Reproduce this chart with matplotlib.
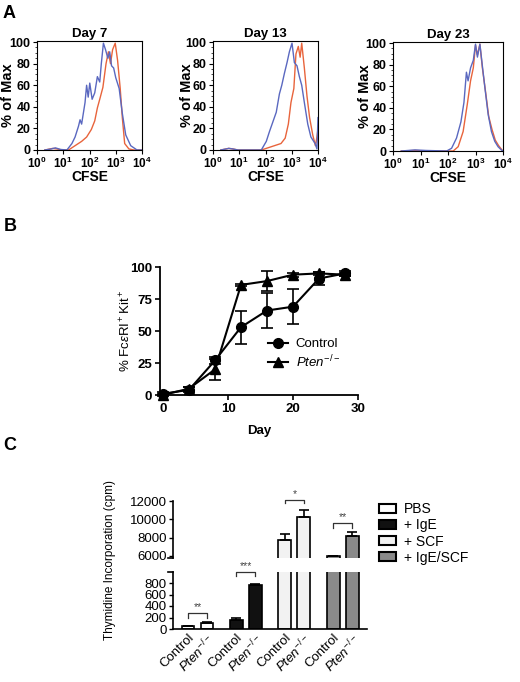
import numpy as np
import matplotlib
matplotlib.use('Agg')
import matplotlib.pyplot as plt
from matplotlib.patches import Patch
from matplotlib.lines import Line2D
from matplotlib.ticker import MultipleLocator, LogLocator, NullFormatter

plt.rcParams['font.family'] = ['Liberation Sans', 'DejaVu Sans']
plt.rcParams['mathtext.fontset'] = 'custom'
plt.rcParams['mathtext.rm'] = 'Liberation Sans'
plt.rcParams['mathtext.it'] = 'Liberation Sans:italic'
plt.rcParams['mathtext.bf'] = 'Liberation Sans:bold'

# ---- panel A: CFSE histograms (x = log10 CFSE, y = % of max) ----
day_titles = ['Day 7', 'Day 13', 'Day 23']

d7_blue_x = [0.3, 0.55, 0.7, 0.9, 1.14, 1.33, 1.45, 1.58, 1.64, 1.70, 1.83, 1.89, 1.95, 2.01, 2.10,
             2.20, 2.30, 2.39, 2.45, 2.53, 2.61, 2.70, 2.77, 2.84, 2.92, 3.0, 3.13, 3.25, 3.38,
             3.57, 3.81, 4.0]
d7_blue_y = [0, 1, 2, 0.5, 0, 6, 12, 22, 28, 24, 44, 60, 49, 62, 47,
             53, 68, 63, 80, 99, 93, 85, 91, 78, 76, 67, 57, 34, 14,
             4, 0, 0]
d7_red_x = [0.3, 0.6, 0.75, 0.95, 1.2, 1.45, 1.70, 1.89, 2.07, 2.20, 2.30, 2.39, 2.51, 2.63, 2.72,
            2.80, 2.88, 2.98, 3.07, 3.17, 3.25, 3.34, 3.50, 3.69, 4.0]
d7_red_y = [0, 1.5, 1, 0, 0, 4, 8, 12, 19, 27, 39, 47, 58, 80, 91,
            80, 93, 99, 83, 57, 30, 6, 1, 0, 0]

d13_blue_x = [0.3, 0.6, 0.75, 0.95, 1.84, 2.03, 2.15, 2.28, 2.41, 2.53, 2.62, 2.72, 2.82, 2.91, 3.01,
              3.10, 3.20, 3.29, 3.38, 3.48, 3.61, 3.73, 3.89, 3.96, 4.0]
d13_blue_y = [0, 1.5, 1, 0, 0, 8, 17, 26, 35, 52, 60, 71, 81, 91, 99,
              81, 78, 68, 60, 44, 24, 12, 6, 1, 30]
d13_red_x = [0.3, 0.6, 0.75, 0.95, 1.84, 2.09, 2.34, 2.59, 2.75, 2.87, 2.97, 3.08, 3.16, 3.25, 3.32,
             3.38, 3.48, 3.58, 3.68, 3.80, 3.90, 3.96, 4.0]
d13_red_y = [0, 1.5, 1, 0, 0, 2, 4, 6, 11, 24, 44, 57, 89, 96, 86,
             99, 76, 50, 30, 14, 4, 12, 20]

d23_blue_x = [0.3, 0.8, 1.2, 1.95, 2.13, 2.31, 2.47, 2.58, 2.67, 2.73, 2.82, 2.92, 3.00, 3.07, 3.16,
              3.24, 3.34, 3.46, 3.58, 3.70, 3.82, 3.94, 4.0]
d23_blue_y = [0, 1, 0.5, 0, 2.5, 12, 27, 45, 73, 65, 77, 84, 99, 87, 99,
              81, 59, 34, 18, 9, 4, 1, 0]
d23_red_x = [0.3, 0.8, 1.2, 2.19, 2.37, 2.55, 2.70, 2.82, 2.92, 3.00, 3.07, 3.16, 3.25, 3.36, 3.48,
             3.60, 3.72, 3.84, 3.96, 4.0]
d23_red_y = [0, 0.5, 0, 0, 4, 18, 43, 65, 77, 98, 89, 99, 77, 56, 32,
             20, 10, 5, 1, 0]

hist_blue = [(d7_blue_x, d7_blue_y), (d13_blue_x, d13_blue_y), (d23_blue_x, d23_blue_y)]
hist_red = [(d7_red_x, d7_red_y), (d13_red_x, d13_red_y), (d23_red_x, d23_red_y)]

# ---- panel B: % FceRI+Kit+ over time ----
days = [0, 4, 8, 12, 16, 20, 24, 28]
ctrl_mean = [1, 4, 27, 53, 66, 69, 91, 95]
ctrl_err = [1, 2, 3, 13, 13.5, 13.5, 5, 2]
pten_mean = [0, 5, 20, 86, 89, 94, 95, 94]
pten_err = [0.5, 1.5, 8, 1, 7.5, 1.5, 1, 1]

# ---- panel C: thymidine incorporation ----
treatments = ['PBS', '+ IgE', '+ SCF', '+ IgE/SCF']
treat_colors = ['white', '#111111', '#f2f2f2', '#8a8a8a']
cpm_ctrl = [50, 165, 7750, 5950]
cpm_ctrl_err = [10, 30, 600, 80]
cpm_pten = [110, 765, 10250, 8150]
cpm_pten_err = [12, 20, 800, 500]
sig_stars = ['**', '***', '*', '**']
sig_height = [270, 990, 12100, 9570]
sig_leg = [200, 920, 11800, 9050]

W, H = 520, 682
fig = plt.figure(figsize=(W / 100, H / 100), dpi=100)

def rect(l, t, r, b):
    return [l / W, 1 - b / H, (r - l) / W, (b - t) / H]

# ---------- A ----------
a_boxes = [(37, 41, 142, 150), (213, 41, 318, 150), (393, 42, 503, 151)]
ylab_gap = [22, 19, 21]
blue_c = '#5a68c0'
red_c = '#e8643c'
for i, bx in enumerate(a_boxes):
    ax = fig.add_axes(rect(*bx))
    bxs, bys = hist_blue[i]
    rxs, rys = hist_red[i]
    ax.plot(10 ** np.array(rxs), rys, color=red_c, lw=1.0)
    ax.plot(10 ** np.array(bxs), bys, color=blue_c, lw=1.0)
    ax.set_xscale('log')
    ax.set_xlim(1, 1e4)
    ax.set_ylim(0, 101)
    ax.set_xticks([1, 10, 100, 1000, 10000])
    ax.set_xticklabels([r'$\mathbf{10^{%d}}$' % k for k in range(5)], fontsize=8.5)
    ax.xaxis.set_minor_locator(LogLocator(base=10, subs=np.arange(2, 10)))
    ax.xaxis.set_minor_formatter(NullFormatter())
    ax.set_yticks([0, 20, 40, 60, 80, 100])
    ax.set_yticklabels(['0', '20', '40', '60', '80', '100'], fontsize=9, fontweight='bold')
    ax.yaxis.set_minor_locator(MultipleLocator(5))
    ax.tick_params(which='major', length=3, width=0.8, pad=1.5)
    ax.tick_params(axis='x', which='major', pad=1)
    ax.tick_params(which='minor', length=1.5, width=0.5)
    for s in ax.spines.values():
        s.set_linewidth(0.8)
    ax.set_xlabel('CFSE', fontsize=10, fontweight='bold')
    ax.xaxis.set_label_coords(0.5, -20 / (bx[3] - bx[1]))
    ax.set_ylabel('% of Max', fontsize=10.5, fontweight='bold')
    ax.yaxis.set_label_coords(-ylab_gap[i] / (bx[2] - bx[0]), 0.5)
    ax.set_title(day_titles[i], fontsize=9.5, fontweight='bold', pad=3)

fig.text(3 / W, 1 - 13 / H, 'A', fontsize=13, fontweight='bold', va='center')
fig.text(4 / W, 1 - 227 / H, 'B', fontsize=13, fontweight='bold', va='center')
fig.text(3 / W, 1 - 445 / H, 'C', fontsize=13, fontweight='bold', va='center')

# ---------- B ----------
axb = fig.add_axes(rect(159.75, 267, 358, 395))
axb.errorbar(days, ctrl_mean, yerr=ctrl_err, color='black', lw=1.5, marker='o', ms=7,
             capsize=4, capthick=1.2, elinewidth=1.2, clip_on=False, zorder=3)
axb.errorbar(days, pten_mean, yerr=pten_err, color='black', lw=1.5, marker='^', ms=7,
             capsize=4, capthick=1.2, elinewidth=1.2, clip_on=False, zorder=3)
axb.set_xlim(-0.5, 30)
axb.set_ylim(0, 100)
axb.set_xticks([0, 10, 20, 30])
axb.set_yticks([0, 25, 50, 75, 100])
for lab in axb.get_xticklabels() + axb.get_yticklabels():
    lab.set_fontweight('bold')
    lab.set_fontsize(9.5)
axb.spines['top'].set_visible(False)
axb.spines['right'].set_visible(False)
axb.spines['left'].set_linewidth(1.3)
axb.spines['bottom'].set_linewidth(1.3)
axb.tick_params(length=3.5, width=1.2, pad=2)
axb.set_xlabel('Day', fontsize=9.5, fontweight='bold')
axb.xaxis.set_label_coords(0.5, -(425 - 395) / 128)
axb.set_ylabel(r'% Fc$\epsilon$RI$^+$Kit$^+$', fontsize=9.5)
axb.yaxis.set_label_coords((133 - 159.75) / 198.25, 0.5)
b_handles = [Line2D([], [], color='black', marker='o', ms=7, lw=1.5),
             Line2D([], [], color='black', marker='^', ms=7, lw=1.5)]
axb.legend(b_handles, ['Control', r'$\it{Pten}^{-/-}$'], frameon=False, fontsize=9.5,
           loc='center left', bbox_to_anchor=(268 / W, 1 - 354 / H), bbox_transform=fig.transFigure,
           borderpad=0, borderaxespad=0, handlelength=1.5, handletextpad=0.6, labelspacing=0.25)

# ---------- C ----------
ax_up = fig.add_axes(rect(173, 501, 367, 558))
ax_lo = fig.add_axes(rect(173, 571.5, 367, 629))
grp = np.arange(len(treatments)) * 2.55
x_ctrl = grp
x_pten = grp + 1.0
bw = 0.68
for ax in (ax_up, ax_lo):
    for j in range(len(treatments)):
        ax.bar([x_ctrl[j], x_pten[j]], [cpm_ctrl[j], cpm_pten[j]], width=bw,
               color=treat_colors[j], edgecolor='black', lw=1.2, zorder=2)
        ax.errorbar([x_ctrl[j], x_pten[j]], [cpm_ctrl[j], cpm_pten[j]],
                    yerr=[[0, 0], [cpm_ctrl_err[j], cpm_pten_err[j]]], fmt='none',
                    ecolor='black', elinewidth=1.2, capsize=3.5, capthick=1.2, zorder=3)
    ax.set_xlim(-0.79, 9.42)
    ax.spines['top'].set_visible(False)
    ax.spines['right'].set_visible(False)
    ax.spines['left'].set_linewidth(1.2)
    ax.tick_params(axis='y', length=3, width=1.0, pad=1.5, labelsize=9.5)

ax_up.set_ylim(5780, 12000)
ax_up.set_yticks([6000, 8000, 10000, 12000])
ax_up.spines['bottom'].set_visible(False)
ax_up.set_xticks([])
ax_lo.set_ylim(0, 1000)
ax_lo.set_yticks([0, 200, 400, 600, 800])
ax_lo.spines['bottom'].set_linewidth(1.2)
ax_lo.tick_params(axis='x', length=0, pad=2)
xt = np.ravel(np.column_stack([x_ctrl, x_pten]))
ax_lo.set_xticks(xt)
ax_lo.set_xticklabels(['Control', r'$\it{Pten}^{-/-}$'] * len(treatments), rotation=45,
                      ha='right', va='top', rotation_mode='anchor', fontsize=9.5)
# axis-break caps
ax_lo.plot([-0.025, 0.0], [1, 1], transform=ax_lo.transAxes, color='black', lw=1.2, clip_on=False)
ax_up.plot([-0.025, 0.0], [0, 0], transform=ax_up.transAxes, color='black', lw=1.2, clip_on=False)

for j in range(len(treatments)):
    ax = ax_lo if sig_height[j] < 1000 else ax_up
    x0, x1 = x_ctrl[j], x_pten[j]
    ax.plot([x0, x0, x1, x1], [sig_leg[j], sig_height[j], sig_height[j], sig_leg[j]],
            color='#333333', lw=0.9, clip_on=False)
    off = 25 if ax is ax_lo else 150
    ax.text((x0 + x1) / 2, sig_height[j] + off, sig_stars[j], ha='center', va='bottom',
            fontsize=7.5, color='#444444', clip_on=False)

fig.text(110 / W, 1 - 560 / H, 'Thymidine Incorporation (cpm)', rotation=90,
         ha='center', va='center', fontsize=8.5)

c_handles = [Patch(facecolor=c, edgecolor='black', lw=1.5) for c in treat_colors]
ax_up.legend(c_handles, treatments, frameon=False, fontsize=10,
             loc='center left', bbox_to_anchor=(379 / W, 1 - 533.5 / H), bbox_transform=fig.transFigure,
             borderpad=0, borderaxespad=0, handlelength=1.2, handleheight=0.65,
             handletextpad=0.6, labelspacing=0.15)

fig.savefig('out.png', dpi=100)
